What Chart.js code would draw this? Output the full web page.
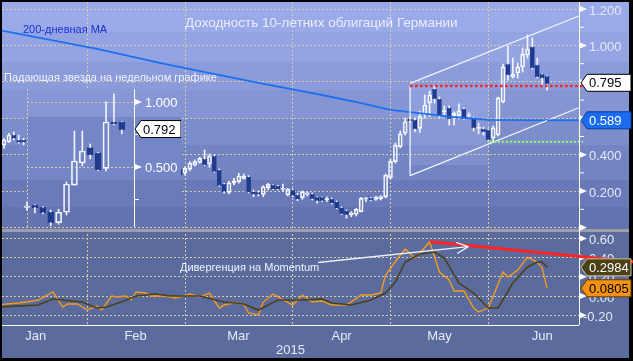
<!DOCTYPE html>
<html>
<head>
<meta charset="utf-8">
<script src="https://cdn.jsdelivr.net/npm/chart.js@4/dist/chart.umd.min.js"></script>
<style>
html, body { margin: 0; padding: 0; background: #000; }
#wrap { position: relative; width: 633px; height: 361px; overflow: hidden; }
#main { position: absolute; left: 0; top: 0; }
#inset { position: absolute; left: 22px; top: 89px; }
</style>
</head>
<body>
<div id="wrap">
  <canvas id="main" width="633" height="361"></canvas>
  <canvas id="inset" width="159" height="138"></canvas>
</div>
<script>
// дневные свечи: номер торгового дня 2015 (0 = 2 янв)
const days = [4,5,6,7,8,
  40,41,42,43,44,45,46,47,48,49,50,51,52,53,54,55,56,57,58,59,60,61,62,63,64,65,66,67,68,69,
  70,71,72,73,74,75,76,77,78,79,80,81,82,83,84,85,86,87,88,89,90,91,92,93,94,95,96,97,98,99,
  100,101,102,103,104,105,106,107,108,109,110,111,112,113,114,115];
const open = [.453,.471,.508,.481,.481,
  .321,.298,.321,.343,.358,.376,.349,.393,.316,.239,.193,.243,.252,.270,.279,.197,.193,.182,.219,.234,.228,.210,.179,.206,.179,.164,.182,.184,.166,.166,
  .153,.157,.142,.109,.092,.069,.073,.087,.157,.162,.154,.157,.169,.274,.362,.444,.518,.596,.591,.545,.618,.684,.761,.706,.637,.657,.613,.613,.651,.613,
  .602,.544,.541,.536,.492,.508,.690,.898,.827,.849,.882,.948,.992,.893,.843,.832];
const high = [.490,.518,.526,.508,.490,
  .330,.334,.362,.371,.386,.426,.404,.398,.321,.243,.255,.270,.298,.294,.285,.206,.202,.230,.243,.236,.232,.239,.215,.212,.188,.201,.197,.190,.169,.169,
  .169,.162,.146,.113,.096,.087,.105,.166,.164,.166,.172,.175,.294,.376,.464,.530,.602,.604,.602,.640,.728,.750,.777,.717,.668,.668,.635,.679,.657,.630,
  .607,.574,.552,.541,.558,.717,.898,.997,.931,.904,.986,1.058,1.041,.931,.845,.834];
const low = [.435,.468,.481,.463,.453,
  .280,.288,.312,.338,.353,.340,.331,.304,.226,.188,.184,.234,.243,.265,.190,.169,.173,.169,.206,.208,.206,.197,.173,.169,.147,.155,.173,.151,.133,.142,
  .142,.129,.102,.071,.051,.059,.063,.085,.142,.146,.149,.151,.162,.266,.354,.437,.508,.578,.526,.523,.600,.609,.684,.602,.618,.563,.563,.596,.591,.600,
  .530,.514,.508,.475,.470,.503,.684,.810,.821,.821,.854,.931,.870,.821,.783,.755];
const close = [.481,.508,.490,.468,.468,
  .288,.325,.353,.362,.380,.343,.393,.307,.230,.197,.246,.257,.283,.283,.193,.182,.182,.224,.237,.210,.210,.215,.210,.175,.155,.197,.191,.157,.147,.146,
  .158,.133,.105,.074,.069,.081,.100,.160,.162,.151,.167,.170,.288,.365,.453,.514,.581,.585,.541,.609,.673,.728,.706,.613,.643,.596,.629,.640,.596,.618,
  .547,.550,.525,.481,.547,.712,.882,.838,.843,.882,.953,.981,.876,.827,.821,.788];

// 200-дневная скользящая средняя
const maDay = [3,23,37,56,69,77,83,91,95,103,115];
const maVal = [1.085,0.981,0.898,0.794,0.728,0.684,0.646,0.622,0.609,0.591,0.589];

// Momentum (оранжевая) и сигнальная (тёмная) линии
const momDay = [3,7,10,11,14,16,17,19,21,23,24,26,27,29,30,31,33,34,37,39,42,44,46,48,49,51,53,54,56,57,
  59,60,63,65,67,69,71,73,74,77,79,81,82,85,86,88,89,91,93,95,96,98,100,101,103,106,107,109,111,113,114,115];
const momVal = [-0.09,-0.073,-0.052,-0.042,0.042,-0.115,-0.083,-0.083,-0.146,-0.104,-0.146,0,-0.01,0,-0.042,0.042,0.031,0,0,-0.021,
  0.021,-0.01,0.031,-0.125,-0.094,-0.073,-0.083,-0.177,-0.198,-0.063,0.021,-0.01,-0.094,0.01,-0.063,-0.052,-0.094,-0.094,-0.094,0.01,
  0.01,0.031,0.219,0.427,0.49,0.396,0.448,0.563,0.25,0.167,0.052,0.052,-0.125,-0.167,-0.125,0.25,0.198,0.27,0.406,0.354,0.29,0.08];
const sigDay = [3,11,14,16,20,23,25,28,31,35,38,44,49,53,56,60,65,69,71,75,79,82,84,86,89,92,94,97,100,103,105,108,111,113,114,115];
const sigVal = [-0.115,-0.094,-0.031,-0.042,-0.063,-0.125,-0.115,-0.063,0,0.021,0,0,-0.063,-0.083,-0.146,-0.042,-0.042,-0.031,-0.073,-0.094,
  -0.042,0.031,0.146,0.354,0.438,0.458,0.396,0.135,0.031,-0.125,-0.125,0.135,0.302,0.354,0.354,0.30];

// недельные свечи (врезка)
const wOpen  = [.19,.208,.19,.154,.072,.152,.36,.531,.649,.608,.49,.846,.846];
const wHigh  = [.23,.21,.195,.169,.175,.386,.777,.777,.677,.612,1.002,1.062,.850];
const wLow   = [.167,.146,.14,.048,.06,.131,.36,.508,.562,.472,.469,.823,.754];
const wClose = [.20,.187,.149,.072,.152,.369,.546,.623,.592,.477,.846,.831,.785];

// оси
const monthNames = ['Jan','Feb','Mar','Apr','May','Jun'];
const monthMid = [10.5, 30.9, 51.9, 73.0, 93.0, 114.0];
const monthStart = [21, 41, 63, 83, 103];
const yearLabel = '2015';
const topTicks = [0, 0.2, 0.4, 0.6, 0.8, 1.0, 1.2];
const topMinor = [0.1, 0.3, 0.5, 0.7, 0.9, 1.1];
const momTicks = [-0.2, 0, 0.2, 0.4, 0.6];
const insetTicks = [0.5, 1.0];
const insetMinor = [0.25, 0.75];

// последние значения
const lastYield = 0.795, lastMA = 0.589, lastSig = 0.2984, lastMom = 0.0805, lastWeekly = 0.792;

// разметка аналитика
const channelUp = [[87, 0.792], [121.5, 1.162]];
const channelLo = [[87, 0.285], [121.5, 0.658]];
const resistFrom = 87, resistLevel = 0.777;
const supportFrom = 103.3, supportLevel = 0.471;
const boxTo = 103, boxLow = 0.343;
const divLine = [[91.07, 0.566], [132.6, 0.357]];
const divArrow = [[68.2, 0.349], [98.9, 0.514]];

const F = '"Liberation Sans", Arial, sans-serif';
const gridCol = '#d4cea6';
const txtCol = '#e4e9f7';
const downCol = '#1f3b8e';

const bandsTop = [[2,'#9aaae8'],[32,'#94a4e2'],[62,'#8c9cdb'],[90,'#8595d4'],[118,'#7c8dcc'],[145,'#7384c3'],[180,'#6a7ab8'],[207,'#6373b0']];
const bandsInset = [[0,'#8797d6'],[28,'#7586c6'],[91,'#6b7bb9'],[118,'#6474b1']];

function line(ctx, x0, y0, x1, y1) {
  ctx.beginPath(); ctx.moveTo(x0, y0); ctx.lineTo(x1, y1); ctx.stroke();
}
function arrowMark(ctx, x, y) {
  ctx.beginPath(); ctx.moveTo(x, y - 3); ctx.lineTo(x + 7, y); ctx.lineTo(x, y + 3); ctx.closePath(); ctx.fill();
}
function axisText(ctx, x, y, text, color) {
  ctx.fillStyle = color; ctx.font = '13px ' + F;
  ctx.textAlign = 'left'; ctx.textBaseline = 'middle';
  ctx.fillText(text, x, y);
}
function tag(ctx, x, y, text, fill, stroke, color, w) {
  const h = 17;
  ctx.beginPath();
  ctx.moveTo(x, y);
  ctx.lineTo(x + 6, y - h / 2);
  ctx.lineTo(x + 6 + w, y - h / 2);
  ctx.lineTo(x + 6 + w, y + h / 2);
  ctx.lineTo(x + 6, y + h / 2);
  ctx.closePath();
  ctx.fillStyle = fill; ctx.fill();
  ctx.strokeStyle = stroke; ctx.lineWidth = 1; ctx.stroke();
  axisText(ctx, x + 8, y + 1, text, color);
}

function candleSets(dx, o, h, l, c, bodyW) {
  const up = o.map((v, i) => c[i] >= v);
  return [
    { type: 'bar', grouped: false, barThickness: 1, backgroundColor: '#f2f4ff', borderWidth: 0,
      data: dx.map((d, i) => ({ x: d, y: [l[i], Math.min(o[i], c[i])] })) },
    { type: 'bar', grouped: false, barThickness: 1, backgroundColor: '#f2f4ff', borderWidth: 0,
      data: dx.map((d, i) => ({ x: d, y: [Math.max(o[i], c[i]), h[i]] })) },
    { type: 'bar', grouped: false, barThickness: bodyW, borderWidth: 1, borderSkipped: false, minBarLength: 1,
      backgroundColor: ctx => up[ctx.dataIndex] ? 'rgba(0,0,0,0)' : downCol,
      borderColor: ctx => up[ctx.dataIndex] ? '#f4f6ff' : downCol,
      data: dx.map((d, i) => ({ x: d, y: [o[i], c[i]] })) }
  ];
}

const mainDeco = {
  id: 'mainDeco',
  beforeDraw(chart) {
    const { ctx, width, height } = chart;
    const X = v => chart.scales.x.getPixelForValue(v);
    const Y = v => chart.scales.y.getPixelForValue(v);
    ctx.save();
    ctx.fillStyle = '#000'; ctx.fillRect(0, 0, width, height);
    ctx.fillStyle = '#5b6b9d'; ctx.fillRect(2, 2, width - 6, height - 5);
    for (let i = 0; i < bandsTop.length; i++) {
      const y0 = bandsTop[i][0];
      const y1 = i + 1 < bandsTop.length ? bandsTop[i + 1][0] : 229;
      ctx.fillStyle = bandsTop[i][1];
      ctx.fillRect(2, y0, width - 6, y1 - y0);
    }
    ctx.fillStyle = 'rgba(200,212,255,0.16)';
    ctx.fillRect(X(resistFrom), Y(resistLevel), X(boxTo) - X(resistFrom), Y(boxLow) - Y(resistLevel));
    ctx.restore();
  },
  afterDraw(chart) {
    const { ctx } = chart;
    const a = chart.chartArea;
    const X = v => chart.scales.x.getPixelForValue(v);
    const Y = v => chart.scales.y.getPixelForValue(v);
    const Y2 = v => chart.scales.y2.getPixelForValue(v);
    ctx.save();
    // разделитель панелей
    ctx.fillStyle = '#9d9fa8'; ctx.fillRect(2, 229, chart.width - 6, 3);

    // канал
    ctx.strokeStyle = '#f4f6ff'; ctx.lineWidth = 1.3;
    line(ctx, X(channelUp[0][0]), Y(channelUp[0][1]), X(channelUp[1][0]), Y(channelUp[1][1]));
    line(ctx, X(channelLo[0][0]), Y(channelLo[0][1]), X(channelLo[1][0]), Y(channelLo[1][1]));
    line(ctx, X(resistFrom), Y(resistLevel), X(channelLo[0][0]), Y(channelLo[0][1]));

    // уровни
    ctx.setLineDash([2.5, 2.5]); ctx.lineWidth = 2.5; ctx.strokeStyle = '#ff2020';
    line(ctx, X(resistFrom), Y(resistLevel), a.right + 4, Y(resistLevel));
    ctx.setLineDash([2, 2]); ctx.lineWidth = 2; ctx.strokeStyle = '#9cff70';
    line(ctx, X(supportFrom), Y(supportLevel), a.right + 4, Y(supportLevel));
    ctx.setLineDash([]);

    // MA до метки
    ctx.strokeStyle = '#1e6ff0'; ctx.lineWidth = 1.8;
    line(ctx, X(maDay[maDay.length - 1]), Y(lastMA), a.right, Y(lastMA));

    // оси
    ctx.strokeStyle = '#ffffff'; ctx.lineWidth = 1;
    line(ctx, a.right + 0.5, a.top, a.right + 0.5, a.bottom);
    line(ctx, a.left, a.bottom + 0.5, a.right, a.bottom + 0.5);
    ctx.fillStyle = '#ffffff';
    topTicks.forEach(v => arrowMark(ctx, a.right + 1, Y(v)));
    momTicks.forEach(v => arrowMark(ctx, a.right + 1, Y2(v)));
    topMinor.forEach(v => line(ctx, a.right, Y(v), a.right + 5, Y(v)));
    topTicks.forEach(v => { if (v > 0.05) axisText(ctx, a.right + 10, Y(v) + 2, v.toFixed(3), txtCol); });
    momTicks.forEach(v => axisText(ctx, a.right + (v < 0 ? 4 : 10), Y2(v) + 2, v.toFixed(2), txtCol));

    // дивергенция
    ctx.strokeStyle = '#ff2424'; ctx.lineWidth = 3;
    line(ctx, X(divLine[0][0]), Y2(divLine[0][1]), X(divLine[1][0]), Y2(divLine[1][1]));
    const ax0 = X(divArrow[0][0]), ay0 = Y2(divArrow[0][1]);
    const ax1 = X(divArrow[1][0]), ay1 = Y2(divArrow[1][1]);
    ctx.strokeStyle = '#eef1ff'; ctx.lineWidth = 1.3;
    line(ctx, ax0, ay0, ax1, ay1);
    const ang = Math.atan2(ay1 - ay0, ax1 - ax0);
    [0.45, -0.45].forEach(d => line(ctx, ax1, ay1, ax1 - 13 * Math.cos(ang + d), ay1 - 13 * Math.sin(ang + d)));

    // подписи
    ctx.textAlign = 'left'; ctx.textBaseline = 'middle';
    ctx.font = '13.5px ' + F; ctx.fillStyle = '#e8eeff';
    ctx.fillText('Доходность 10-летних облигаций Германии', 185, 23.5);
    ctx.font = '11px ' + F; ctx.fillStyle = '#1b2fd6';
    ctx.fillText('200-дневная MA', 23, 30);
    ctx.fillStyle = '#f0f3ff';
    ctx.fillText('Падающая звезда на недельном графике', 4, 78);
    ctx.fillText('Дивергенция на Momentum', 180, 268);

    // метки последних значений
    tag(ctx, a.right + 2, Y(lastYield), lastYield.toFixed(3), '#ffffff', '#000000', '#000000', 44);
    tag(ctx, a.right + 2, Y(lastMA), lastMA.toFixed(3), '#1b6cf0', '#0c3c9c', '#ffffff', 44);
    tag(ctx, a.right + 2, Y2(lastSig), lastSig.toFixed(4), '#4b4016', '#cfc79a', '#ffffff', 44);
    tag(ctx, a.right + 2, Y2(lastMom), lastMom.toFixed(4), '#f5920f', '#6a3a00', '#000000', 44);
    ctx.restore();
  }
};

const insetDeco = {
  id: 'insetDeco',
  beforeDraw(chart) {
    const { ctx, width } = chart;
    const a = chart.chartArea;
    ctx.save();
    for (let i = 0; i < bandsInset.length; i++) {
      const y0 = bandsInset[i][0];
      const y1 = i + 1 < bandsInset.length ? bandsInset[i + 1][0] : chart.height;
      ctx.fillStyle = bandsInset[i][1];
      ctx.fillRect(a.left, y0, width - a.left, y1 - y0);
    }
    ctx.restore();
  },
  afterDraw(chart) {
    const { ctx } = chart;
    const a = chart.chartArea;
    const Y = v => chart.scales.y.getPixelForValue(v);
    ctx.save();
    ctx.strokeStyle = '#ffffff'; ctx.fillStyle = '#ffffff'; ctx.lineWidth = 1;
    line(ctx, a.right + 0.5, a.top, a.right + 0.5, a.bottom);
    insetTicks.forEach(v => arrowMark(ctx, a.right + 1, Y(v)));
    insetMinor.forEach(v => line(ctx, a.right, Y(v), a.right + 5, Y(v)));
    insetTicks.forEach(v => axisText(ctx, a.right + 11, Y(v) + 1, v.toFixed(3), '#ffffff'));
    tag(ctx, a.right + 1, Y(lastWeekly), lastWeekly.toFixed(3), '#ffffff', '#000000', '#000000', 40);
    ctx.restore();
  }
};

const mainSets = candleSets(days, open, high, low, close, 4);
new Chart(document.getElementById('main'), {
  type: 'bar',
  data: {
    datasets: [
      { type: 'line', data: maDay.map((d, i) => ({ x: d, y: maVal[i] })), borderColor: '#1e6ff0', borderWidth: 1.8,
        pointRadius: 0, tension: 0 },
      ...mainSets,
      { type: 'line', yAxisID: 'y2', data: sigDay.map((d, i) => ({ x: d, y: sigVal[i] })), borderColor: '#4a411c',
        borderWidth: 1.6, pointRadius: 0, tension: 0 },
      { type: 'line', yAxisID: 'y2', data: momDay.map((d, i) => ({ x: d, y: momVal[i] })), borderColor: '#f39a1e',
        borderWidth: 1.4, pointRadius: 0, tension: 0 }
    ]
  },
  options: {
    responsive: false, animation: false, devicePixelRatio: 1,
    layout: { padding: { left: 2, top: 2, right: 54, bottom: 3 } },
    plugins: { legend: { display: false }, tooltip: { enabled: false } },
    scales: {
      x: {
        type: 'linear', min: 3.59, max: 121.53, position: 'bottom', offset: false,
        afterBuildTicks: s => { s.ticks = monthStart.map(v => ({ value: v })); },
        afterFit: s => { s.height = 0; },
        grid: { color: gridCol, drawTicks: false, offset: false },
        border: { display: false, dash: [2, 2] },
        ticks: { display: false }
      },
      x2: {
        type: 'linear', min: 3.59, max: 121.53, position: 'bottom', offset: false,
        afterBuildTicks: s => { s.ticks = monthMid.map(v => ({ value: v })); },
        afterFit: s => { s.height = 33; },
        grid: { display: false, drawTicks: false, offset: false },
        border: { display: false },
        ticks: { autoSkip: false, maxRotation: 0, padding: 4, color: txtCol, font: { family: F, size: 13 },
          callback: (v, i) => monthNames[i] },
        title: { display: true, text: yearLabel, color: txtCol, font: { family: F, size: 13 }, padding: 0 }
      },
      y: {
        type: 'linear', position: 'right', min: -0.5357, max: 1.239,
        afterBuildTicks: s => { s.ticks = topTicks.map(v => ({ value: v })); },
        afterFit: s => { s.width = 0; },
        grid: { color: gridCol, drawTicks: false },
        border: { display: false, dash: [2, 2] },
        ticks: { display: false }
      },
      y2: {
        type: 'linear', position: 'right', min: -0.302, max: 3.0625,
        afterBuildTicks: s => { s.ticks = momTicks.map(v => ({ value: v })); },
        afterFit: s => { s.width = 0; },
        grid: { color: gridCol, drawTicks: false },
        border: { display: false, dash: [2, 2] },
        ticks: { display: false }
      }
    }
  },
  plugins: [mainDeco]
});

const weekIdx = wOpen.map((v, i) => i + 1);
const insetSets = candleSets(weekIdx, wOpen, wHigh, wLow, wClose, 6).map(d => Object.assign(d, { clip: false }));
new Chart(document.getElementById('inset'), {
  type: 'bar',
  data: { datasets: insetSets },
  options: {
    responsive: false, animation: false, devicePixelRatio: 1,
    layout: { padding: { left: 5, right: 47, top: 0, bottom: 0 } },
    plugins: { legend: { display: false }, tooltip: { enabled: false } },
    scales: {
      x: {
        type: 'linear', min: 1, max: 14.54, offset: false,
        afterBuildTicks: s => { s.ticks = [{ value: 1 }]; },
        afterFit: s => { s.height = 0; },
        grid: { color: gridCol, drawTicks: false, offset: false },
        border: { display: false, dash: [2, 2] },
        ticks: { display: false }
      },
      y: {
        type: 'linear', position: 'right', min: 0.0385, max: 1.1,
        afterBuildTicks: s => { s.ticks = insetTicks.map(v => ({ value: v })); },
        afterFit: s => { s.width = 0; },
        grid: { color: gridCol, drawTicks: false },
        border: { display: false, dash: [2, 2] },
        ticks: { display: false }
      }
    }
  },
  plugins: [insetDeco]
});
</script>
</body>
</html>
